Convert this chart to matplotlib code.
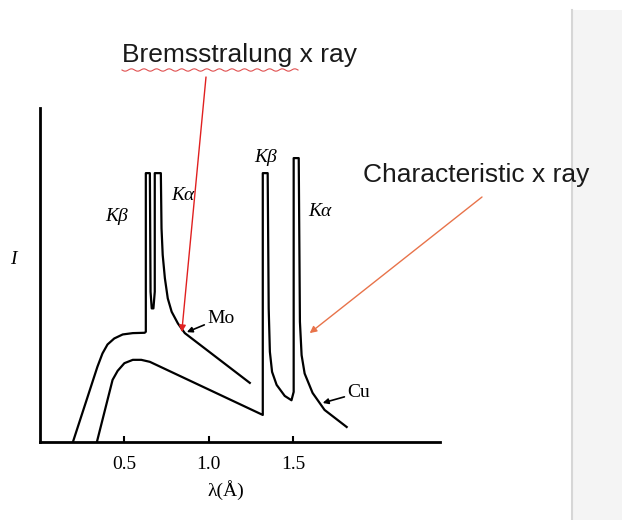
import numpy as np
import matplotlib.pyplot as plt
from matplotlib.patches import Rectangle
from matplotlib.lines import Line2D

# Mo target spectrum (higher voltage): wavelength (A), intensity (a.u.)
mo_lam = [0.195, 0.34, 0.37, 0.40, 0.44, 0.49, 0.55, 0.62, 0.627, 0.627, 0.651, 0.655,
          0.662, 0.672, 0.68, 0.68, 0.716, 0.72, 0.727, 0.74, 0.757, 0.78, 0.817,
          0.858, 1.243]
mo_int = [0.0, 0.225, 0.265, 0.292, 0.31, 0.322, 0.326, 0.327, 0.33, 0.805, 0.805,
          0.45, 0.40, 0.40, 0.45, 0.805, 0.805, 0.64, 0.56, 0.49, 0.43, 0.39, 0.355,
          0.326, 0.177]

# Cu target spectrum
cu_lam = [0.337, 0.43, 0.46, 0.50, 0.55, 0.60, 0.651, 1.32, 1.32, 1.349, 1.355,
          1.362, 1.375, 1.402, 1.45, 1.49, 1.503, 1.503, 1.533, 1.54, 1.55, 1.568,
          1.615, 1.686, 1.817]
cu_int = [0.0, 0.186, 0.213, 0.236, 0.246, 0.246, 0.240, 0.081, 0.805, 0.805, 0.40,
          0.27, 0.21, 0.171, 0.138, 0.125, 0.15, 0.85, 0.85, 0.36, 0.26, 0.205,
          0.147, 0.096, 0.045]

xticks = [0.5, 1.0, 1.5]
xtick_labels = ["0.5", "1.0", "1.5"]

fig = plt.figure(figsize=(6.22, 5.2), dpi=100)
W, H = 622, 520

# grey panel on the right side of the slide
fig.patches.append(Rectangle((572 / W, 0), 50 / W, 1 - 10 / H, transform=fig.transFigure,
                             facecolor="#f4f4f4", edgecolor="none", zorder=0))
fig.add_artist(Line2D([572 / W, 572 / W], [0, 1 - 10 / H], transform=fig.transFigure,
                      color="#d6d6d6", lw=1.5, zorder=1))

ax = fig.add_axes([40 / W, (H - 442) / H, 400 / W, (442 - 108) / H])
ax.set_facecolor("none")
ax.plot(mo_lam, mo_int, color="black", lw=1.6, solid_joinstyle="round")
ax.plot(cu_lam, cu_int, color="black", lw=1.6, solid_joinstyle="round")
ax.set_xlim(0, 2.37)
ax.set_ylim(0, 1.0)
for s in ["top", "right"]:
    ax.spines[s].set_visible(False)
for s in ["left", "bottom"]:
    ax.spines[s].set_linewidth(2)
ax.set_yticks([])
ax.set_xticks(xticks)
ax.set_xticklabels(xtick_labels, family="Liberation Serif", fontsize=14)
ax.tick_params(axis="x", direction="in", length=4, width=1.5, pad=10)

serif = "Liberation Serif"
ax.text(1.1 / 2.37, -0.145, "λ(Å)", transform=ax.transAxes, ha="center", va="center",
        family=serif, fontsize=14)
fig.text(13 / W, 1 - 260 / H, "I", family=serif, style="italic", fontsize=14,
         ha="center", va="center")

# peak labels
ax.text(0.456, 0.674, "Kβ", family=serif, style="italic", fontsize=14, ha="center", va="center")
ax.text(0.846, 0.737, "Kα", family=serif, style="italic", fontsize=14, ha="center", va="center")
ax.text(1.337, 0.853, "Kβ", family=serif, style="italic", fontsize=14, ha="center", va="center")
ax.text(1.657, 0.689, "Kα", family=serif, style="italic", fontsize=14, ha="center", va="center")

ax.annotate("Mo", xy=(0.87, 0.329), xytext=(0.99, 0.371), family=serif, fontsize=14,
            va="center", ha="left",
            arrowprops=dict(arrowstyle="-|>", color="black", lw=1.2, mutation_scale=8,
                            shrinkA=0, shrinkB=0))
ax.annotate("Cu", xy=(1.675, 0.117), xytext=(1.82, 0.147), family=serif, fontsize=14,
            va="center", ha="left",
            arrowprops=dict(arrowstyle="-|>", color="black", lw=1.2, mutation_scale=8,
                            shrinkA=0, shrinkB=0))

# slide annotations
fig.text(122 / W, 1 - 55 / H, "Bremsstralung x ray", family="Liberation Sans",
         fontsize=19, color="#1a1a1a", va="center", ha="left")
wx = np.linspace(122, 298, 120)
wy = 70 + 1.2 * np.sin((wx - 122) / 2.0)
fig.add_artist(Line2D(wx / W, 1 - wy / H, transform=fig.transFigure, color="#e05050", lw=0.8))

fig.text(363 / W, 1 - 175 / H, "Characteristic x ray", family="Liberation Sans",
         fontsize=19, color="#1a1a1a", va="center", ha="left", zorder=5)

ax.annotate("", xy=(0.84, 0.329), xycoords="data", xytext=(206, H - 77),
            textcoords="figure pixels", annotation_clip=False,
            arrowprops=dict(arrowstyle="-|>", color="#e02020", lw=1.0, mutation_scale=10,
                            shrinkA=0, shrinkB=0))
ax.annotate("", xy=(1.598, 0.326), xycoords="data", xytext=(482, H - 197),
            textcoords="figure pixels", annotation_clip=False,
            arrowprops=dict(arrowstyle="-|>", color="#e8734a", lw=1.0, mutation_scale=10,
                            shrinkA=0, shrinkB=0))

fig.savefig("out.png", dpi=100)
